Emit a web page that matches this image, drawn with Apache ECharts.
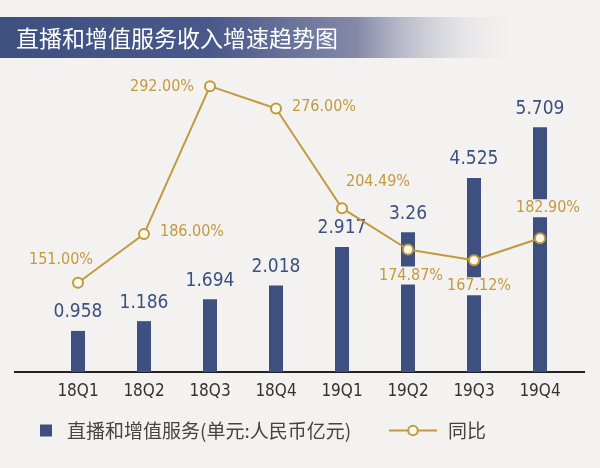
<!DOCTYPE html>
<html><head><meta charset="utf-8">
<script src="https://cdn.jsdelivr.net/npm/echarts@6/dist/echarts.min.js"></script>
<style>html,body{margin:0;padding:0;background:#f4f2f0}#c{width:600px;height:468px}</style>
</head><body><div id="c"></div>
<script>
const categories = ['18Q1','18Q2','18Q3','18Q4','19Q1','19Q2','19Q3','19Q4'];
const revenue = [0.958, 1.186, 1.694, 2.018, 2.917, 3.26, 4.525, 5.709];
const revenueLabels = ['0.958','1.186','1.694','2.018','2.917','3.26','4.525','5.709'];
const growth = [151.00, 186.00, 292.00, 276.00, 204.49, 174.87, 167.12, 182.90];
const growthPos = ['upleft','right','left','right','upright','bottom1','bottom2','top'];
const titleText = '直播和增值服务收入增速趋势图';
const barName = '直播和增值服务(单元:人民币亿元)';
const lineName = '同比';

const navy = '#3d5080', gold = '#c29a3e', bg = '#f4f2f0';
const numFont = '"DejaVu Sans Condensed", "Liberation Sans Narrow", sans-serif';
const cjk = '"Noto Sans CJK SC", sans-serif';

function labelFor(pos){
  const base = {show:true, color: gold, fontFamily:numFont, fontSize:16,
    formatter: p => p.value.toFixed(2) + '%', backgroundColor: bg, padding:[1,1]};
  if (pos==='upleft') return Object.assign(base,{position:'top', distance:8, offset:[-17,0]});
  if (pos==='upright') return Object.assign(base,{position:'top', distance:11, offset:[36,0]});
  if (pos==='bottom1') return Object.assign(base,{position:'bottom', distance:11, offset:[3,0]});
  if (pos==='bottom2') return Object.assign(base,{position:'bottom', distance:11, offset:[5,0]});
  if (pos==='top') return Object.assign(base,{position:'top', distance:15, offset:[8,0]});
  if (pos==='left') return Object.assign(base,{position:'left', distance:9, offset:[0,1]});
  return Object.assign(base,{position:'right', distance:9, offset:[0,-2]});
}

const chart = echarts.init(document.getElementById('c'));
chart.setOption({
  backgroundColor: bg,
  animation:false,
  title:{text:titleText, left:11, top:22, textStyle:{color:'#fff', fontSize:23, fontWeight:'normal', fontFamily:cjk}},
  graphic:[
    {type:'rect', z:-1, shape:{x:0,y:17,width:525,height:41},
     style:{fill:new echarts.graphic.LinearGradient(0,0,1,0,[
       {offset:0,color:'#3d5080'},{offset:0.4,color:'#48588a'},{offset:0.68,color:'#8589a8'},{offset:1,color:'rgba(244,242,240,0)'}])}},
    {type:'line', shape:{x1:14,y1:372,x2:585,y2:372}, style:{stroke:'#222', lineWidth:2}}
  ],
  legend:[
    {bottom:23, left:35, itemWidth:12, itemHeight:12, itemGap:0,
     textStyle:{fontSize:19, color:'#444', fontFamily:cjk, padding:[0,0,0,10]},
     data:[{name:barName, icon:'rect'}]},
    {bottom:23, left:383, itemWidth:48, itemHeight:12,
     textStyle:{fontSize:19, color:'#444', fontFamily:cjk, padding:[0,0,0,6]},
     data:[{name:lineName}]}
  ],
  grid:{left:45, right:27, top:29, bottom:96},
  xAxis:{type:'category', data:categories, axisLine:{show:false}, axisTick:{show:false},
    axisLabel:{margin:11, color:'#333', fontSize:17, fontFamily:numFont}},
  yAxis:[{type:'value', min:0, max:8, show:false},{type:'value', min:87, max:333, show:false}],
  series:[
    {name:barName, type:'bar', data:revenue, barWidth:14, itemStyle:{color:navy},
     label:{show:true, position:'top', distance:9, color:navy, fontSize:19, fontFamily:numFont,
       formatter:p=>revenueLabels[p.dataIndex]}},
    {name:lineName, type:'line', yAxisIndex:1, data:growth.map((v,i)=>({value:v, label:labelFor(growthPos[i])})),
     symbol:'circle', symbolSize:10, lineStyle:{color:gold, width:2},
     itemStyle:{color:'#fbf8ee', borderColor:gold, borderWidth:2}}
  ]
});
</script></body></html>
